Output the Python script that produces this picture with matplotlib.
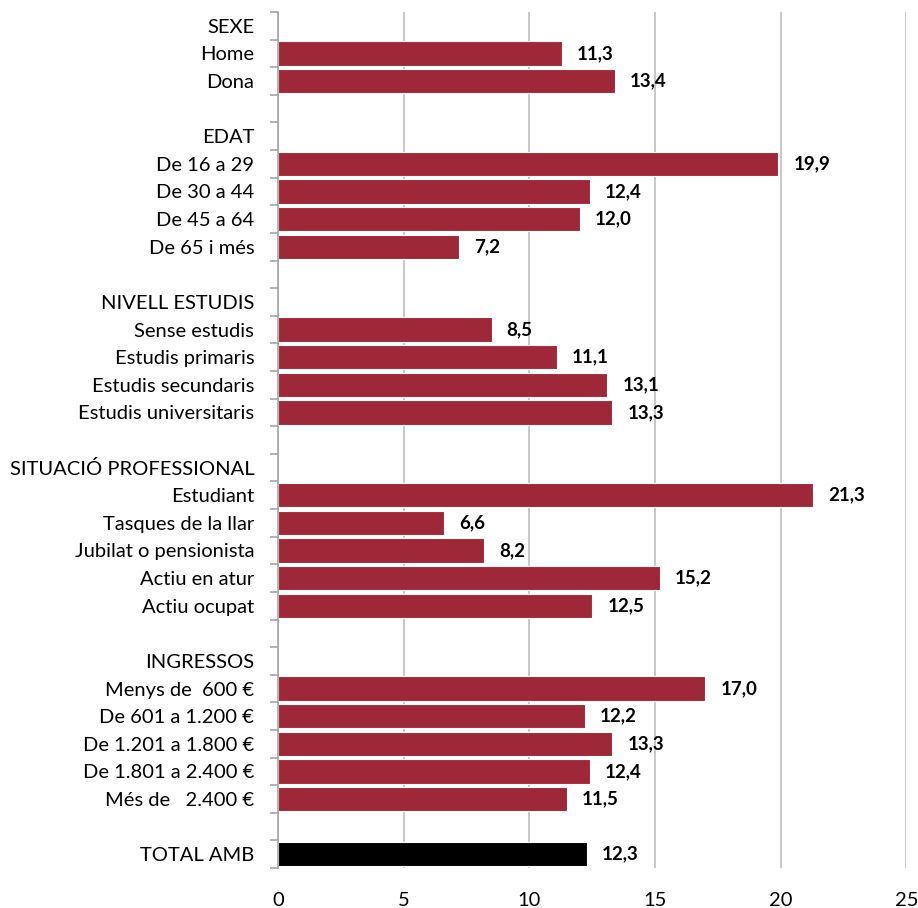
import matplotlib.pyplot as plt

plt.rcParams['font.family'] = ['Lato', 'DejaVu Sans']

labels = ['SEXE', 'Home', 'Dona', '',
          'EDAT', 'De 16 a 29', 'De 30 a 44', 'De 45 a 64', 'De 65 i més', '',
          'NIVELL ESTUDIS', 'Sense estudis', 'Estudis primaris', 'Estudis secundaris',
          'Estudis universitaris', '',
          'SITUACIÓ PROFESSIONAL', 'Estudiant', 'Tasques de la llar', 'Jubilat o pensionista',
          'Actiu en atur', 'Actiu ocupat', '',
          'INGRESSOS', 'Menys de  600 €', 'De 601 a 1.200 €', 'De 1.201 a 1.800 €',
          'De 1.801 a 2.400 €', 'Més de   2.400 €', '',
          'TOTAL AMB']
values = [None, 11.3, 13.4, None,
          None, 19.9, 12.4, 12.0, 7.2, None,
          None, 8.5, 11.1, 13.1, 13.3, None,
          None, 21.3, 6.6, 8.2, 15.2, 12.5, None,
          None, 17.0, 12.2, 13.3, 12.4, 11.5, None,
          12.3]

red = '#9e2837'
fig = plt.figure(figsize=(9.18, 9.08), dpi=100)
ax = fig.add_axes([0.3028, 0.044, 0.6845, 0.9428])

for i, v in enumerate(values):
    if v is None:
        continue
    c = 'black' if labels[i] == 'TOTAL AMB' else red
    ax.barh(i, v, height=0.88, color=c, edgecolor='white', linewidth=0.8, zorder=3)
    ax.text(v + 0.6, i, f'{v:.1f}'.replace('.', ','), va='center', ha='left',
            fontsize=13.5, fontweight='bold', color='black')

ax.set_xlim(0, 25)
ax.set_ylim(len(labels) - 0.5, -0.5)
ax.set_xticks(range(0, 26, 5))
ax.set_yticks(range(len(labels)))
ax.set_yticklabels(labels, fontsize=14.5)
ax.set_yticks([i - 0.5 for i in range(len(labels) + 1)], minor=True)
ax.tick_params(axis='y', which='major', length=0, pad=17)
ax.tick_params(axis='y', which='minor', length=6, color='#a6a6a6', width=1.2)
ax.tick_params(axis='x', length=0, labelsize=14.5, pad=17)

ax.grid(axis='x', color='#bfbfbf', linewidth=1.2, zorder=0)
for s in ['top', 'right', 'bottom']:
    ax.spines[s].set_visible(False)
ax.spines['left'].set_color('#a6a6a6')
ax.spines['left'].set_linewidth(1.2)
ax.spines['left'].set_zorder(4)

fig.savefig('out.png', dpi=100)
